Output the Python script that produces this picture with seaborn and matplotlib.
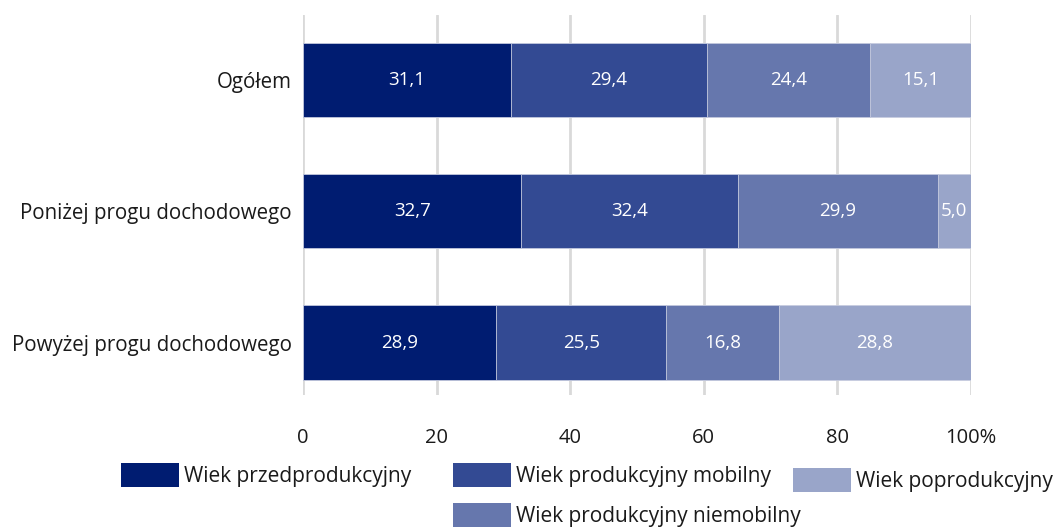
import numpy as np
import pandas as pd
import matplotlib
matplotlib.use("Agg")
import matplotlib.pyplot as plt
import seaborn as sns
from matplotlib.patches import Patch

categories = ["Ogółem", "Poniżej progu dochodowego", "Powyżej progu dochodowego"]
series_names = ["Wiek przedprodukcyjny", "Wiek produkcyjny mobilny",
                "Wiek produkcyjny niemobilny", "Wiek poprodukcyjny"]
przedprodukcyjny = [31.1, 32.7, 28.9]
mobilny = [29.4, 32.4, 25.5]
niemobilny = [24.4, 29.9, 16.8]
poprodukcyjny = [15.1, 5.0, 28.8]
x_ticks = [0, 20, 40, 60, 80, 100]
x_tick_labels = ["0", "20", "40", "60", "80", "100%"]
colors = ["#001c71", "#334a93", "#6677ad", "#99a5c9"]

sns.set_theme(style="white")
plt.rcParams["font.family"] = ["Open Sans", "DejaVu Sans"]

series = [przedprodukcyjny, mobilny, niemobilny, poprodukcyjny]
vals = np.array(series)            # shape (4, 3)
cum = np.cumsum(vals, axis=0)

fig = plt.figure(figsize=(10.55, 5.29), dpi=100)
ax = fig.add_axes([303/1055, 1 - 395/529, (971-303)/1055, (395-15)/529])

for i in reversed(range(len(series))):
    df = pd.DataFrame({"cat": categories, "val": cum[i]})
    sns.barplot(data=df, x="val", y="cat", orient="h", color=colors[i],
                width=0.565, ax=ax, saturation=1, edgecolor="#c8cde0",
                linewidth=0.6, zorder=3)

for i in range(len(series)):
    for j, cat in enumerate(categories):
        v = vals[i, j]
        center = cum[i, j] - v / 2
        ax.text(center, j, f"{v:.1f}".replace(".", ","), ha="center", va="center",
                color="white", fontsize=13.5, zorder=5)

ax.set_xlim(0, 100)
ax.set_ylim(2.40, -0.496)
ax.set_xticks(x_ticks)
ax.set_xticklabels(x_tick_labels)
ax.set_xlabel("")
ax.set_ylabel("")
ax.grid(axis="x", color="#d9d9d9", linewidth=2, zorder=0)
ax.grid(axis="y", visible=False)
for s in ax.spines.values():
    s.set_visible(False)
ax.tick_params(axis="x", length=0, pad=24, labelsize=14.5, labelcolor="#1a1a1a")
ax.tick_params(axis="y", length=0, pad=8, labelsize=14.8, labelcolor="#1a1a1a")
ax.set_axisbelow(True)

# legend items (flow layout)
positions = [(121, 475), (453, 475), (453, 515), (793, 480)]
for name, col, (px, py) in zip(series_names, colors, positions):
    fig.legend(handles=[Patch(facecolor=col, edgecolor="none")], labels=[name],
               loc="center left", bbox_to_anchor=(px/1055, 1 - py/529),
               frameon=False, fontsize=15, handlelength=2.8, handleheight=1.4,
               handletextpad=0.2, borderpad=0, borderaxespad=0,
               labelcolor="#1a1a1a")

fig.savefig("out.png", dpi=100)
